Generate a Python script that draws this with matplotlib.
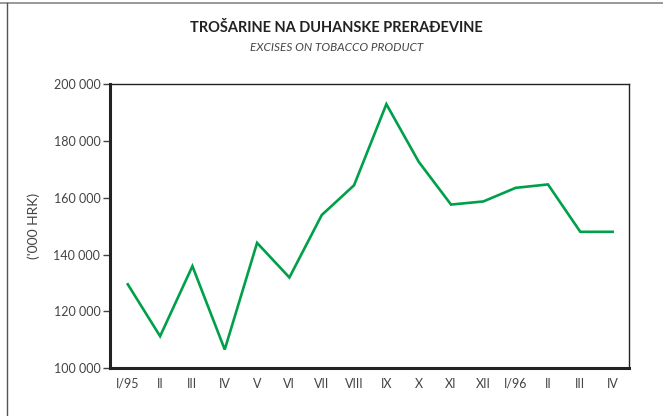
import numpy as np
import matplotlib
matplotlib.use('Agg')
import matplotlib.pyplot as plt
from matplotlib.lines import Line2D

plt.rcParams['font.family'] = ['Lato', 'DejaVu Sans']

months = ['I/95', 'II', 'III', 'IV', 'V', 'VI', 'VII', 'VIII', 'IX', 'X',
          'XI', 'XII', 'I/96', 'II', 'III', 'IV']
excises = [129500, 111200, 135900, 106500, 144100, 131900, 153900, 164400,
           193000, 172700, 157600, 158700, 163500, 164700, 148000, 148000]

yticks = [100000, 120000, 140000, 160000, 180000, 200000]
ytick_labels = ['100 000', '120 000', '140 000', '160 000', '180 000', '200 000']

fig = plt.figure(figsize=(6.63, 4.16), dpi=100)
ax = fig.add_axes([0.1659, 0.1154, 0.783, 0.682])

x = np.arange(len(excises))
ax.plot(x, excises, color='#00a04a', linewidth=1.9, solid_joinstyle='miter')

ax.set_xlim(-0.55, 15.51)
ax.set_ylim(100000, 200000)
ax.set_xticks(x)
ax.set_xticklabels(months)
ax.set_yticks(yticks)
ax.set_yticklabels(ytick_labels)

ax.tick_params(axis='x', length=0, pad=7, labelsize=9, labelcolor='#444444')
ax.tick_params(axis='y', length=5, width=1, color='#444444', pad=2,
               labelsize=9, labelcolor='#444444')

for side in ['top', 'right']:
    ax.spines[side].set_linewidth(1.0)
    ax.spines[side].set_color('#222222')
for side in ['left', 'bottom']:
    ax.spines[side].set_linewidth(2.2)
    ax.spines[side].set_color('#222222')

ax.set_ylabel("('000 HRK)", fontsize=10, color='#444444')
ax.yaxis.set_label_coords(-0.135, 0.5)

fig.text(0.508, 0.932, 'TROŠARINE NA DUHANSKE PRERAĐEVINE', ha='center', va='center',
         fontsize=10.5, fontweight='bold', color='#222222')
fig.text(0.508, 0.887, 'EXCISES ON TOBACCO PRODUCT', ha='center', va='center',
         fontsize=8.5, style='italic', color='#444444')

# outer frame
fig.add_artist(Line2D([0, 1], [1 - 3 / 416, 1 - 3 / 416], transform=fig.transFigure,
                      color='#888888', linewidth=1.2))
fig.add_artist(Line2D([7 / 663, 7 / 663], [0, 1 - 3 / 416], transform=fig.transFigure,
                      color='#555555', linewidth=1.0))

fig.savefig('out.png', dpi=100)
